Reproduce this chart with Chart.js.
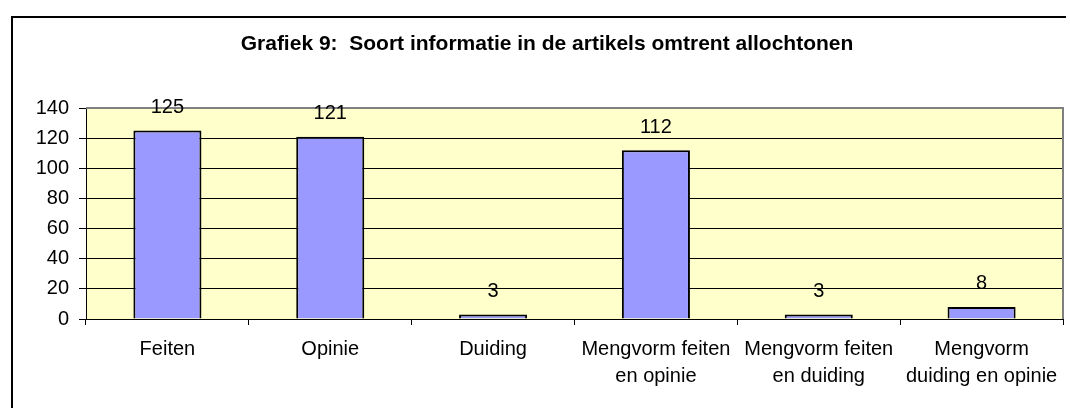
<!DOCTYPE html>
<html>
<head>
<meta charset="utf-8">
<script src="https://cdn.jsdelivr.net/npm/chart.js@4.4.1/dist/chart.umd.min.js"></script>
<style>
  html, body { margin: 0; padding: 0; background: #fff; overflow: hidden; }
  #chart { display: block; }
</style>
</head>
<body>
<canvas id="chart" width="1070" height="408"></canvas>
<script>
var titleText = 'Grafiek 9:  Soort informatie in de artikels omtrent allochtonen';
var categories = [
    ['Feiten'],
    ['Opinie'],
    ['Duiding'],
    ['Mengvorm feiten', 'en opinie'],
    ['Mengvorm feiten', 'en duiding'],
    ['Mengvorm', 'duiding en opinie']
];
var values = [125, 121, 3, 112, 3, 8];
var yTicks = [0, 20, 40, 60, 80, 100, 120, 140];

var fontFamily = "Arial, 'Liberation Sans', sans-serif";

// white page, outer frame (left/top only, rest is off the picture) and yellow plot area
var plotArea = {
    id: 'plotArea',
    beforeDraw: function (chart) {
        var a = chart.chartArea, c = chart.ctx;
        c.save();
        c.fillStyle = '#fff';
        c.fillRect(0, 0, chart.width, chart.height);
        c.fillStyle = '#000';
        c.fillRect(11, 16, chart.width - 15, 2);
        c.fillRect(11, 16, 2, chart.height - 16);
        c.fillStyle = '#FFFFCC';
        c.fillRect(a.left, a.top, a.right - a.left, a.bottom - a.top);
        c.restore();
    },
    afterDatasetsDraw: function (chart) {
        var a = chart.chartArea, c = chart.ctx;
        c.save();
        c.strokeStyle = '#808080';
        c.lineWidth = 2;
        c.beginPath();
        c.moveTo(a.left, a.top);
        c.lineTo(a.right, a.top);
        c.lineTo(a.right, a.bottom);
        c.stroke();
        c.restore();
    }
};

// value labels above the bars
var valueLabels = {
    id: 'valueLabels',
    afterDraw: function (chart) {
        var c = chart.ctx;
        var meta = chart.getDatasetMeta(0);
        c.save();
        c.font = '20px ' + fontFamily;
        c.fillStyle = '#000';
        c.textAlign = 'center';
        c.textBaseline = 'middle';
        meta.data.forEach(function (bar, i) {
            c.fillText(String(values[i]), bar.x, bar.y - 23);
        });
        c.restore();
    }
};

var chart = new Chart(document.getElementById('chart'), {
    type: 'bar',
    data: {
        labels: categories,
        datasets: [{
            data: values,
            backgroundColor: '#9999FF',
            borderColor: '#000000',
            borderWidth: 2,
            barPercentage: 0.418,
            categoryPercentage: 1
        }]
    },
    options: {
        responsive: false,
        animation: false,
        layout: { padding: { left: 31, right: 7, top: 0, bottom: 0 } },
        plugins: {
            legend: { display: false },
            tooltip: { enabled: false },
            title: {
                display: true,
                text: titleText,
                color: '#000',
                font: { family: fontFamily, size: 21, weight: 'bold', lineHeight: 1.2 },
                padding: { top: 31.4, bottom: 51.4 }
            }
        },
        scales: {
            x: {
                grid: {
                    drawOnChartArea: false,
                    drawTicks: true,
                    tickLength: 6,
                    tickColor: '#000'
                },
                border: { display: true, color: '#000', width: 1 },
                ticks: {
                    color: '#000',
                    padding: 11,
                    maxRotation: 0,
                    autoSkip: false,
                    font: { family: fontFamily, size: 20, lineHeight: 1.35 }
                },
                afterFit: function (scale) { scale.height = 89; }
            },
            y: {
                min: 0,
                max: 140,
                afterBuildTicks: function (scale) {
                    scale.ticks = yTicks.map(function (v) { return { value: v }; });
                },
                grid: {
                    color: function (ctx) { return ctx.tick && ctx.tick.value === 140 ? 'rgba(0,0,0,0)' : '#000'; },
                    lineWidth: 1,
                    tickLength: 7,
                    tickColor: '#000'
                },
                border: { display: true, color: '#000', width: 1 },
                ticks: {
                    color: '#000',
                    padding: 10,
                    font: { family: fontFamily, size: 20 }
                },
                afterFit: function (scale) { scale.width = 55; }
            }
        }
    },
    plugins: [plotArea, valueLabels]
});
</script>
</body>
</html>
